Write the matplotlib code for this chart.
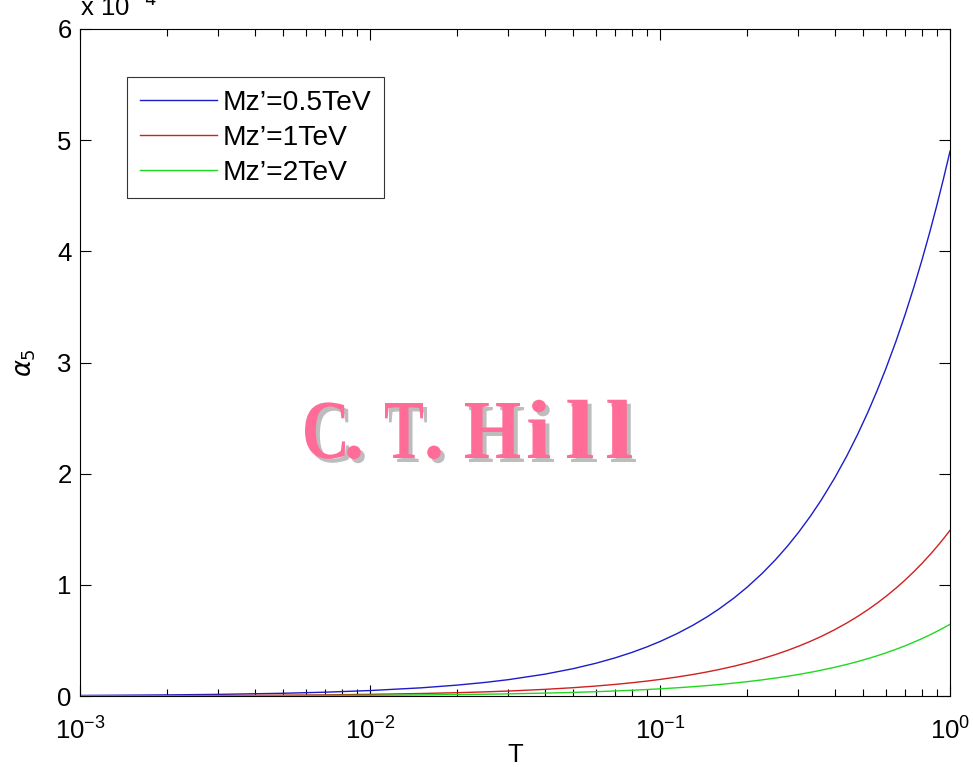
import matplotlib
matplotlib.use("Agg")
import matplotlib.pyplot as plt
from matplotlib.textpath import TextPath
from matplotlib.patches import PathPatch
from matplotlib.font_manager import FontProperties
from matplotlib.transforms import Affine2D
from matplotlib.ticker import LogLocator, NullFormatter

plt.rcParams['font.family'] = ['Liberation Sans', 'DejaVu Sans']

T = [0.001, 0.002, 0.003, 0.005, 0.007, 0.01, 0.015, 0.02, 0.025, 0.03, 0.04, 0.05, 0.06, 0.07,
     0.08, 0.09, 0.1, 0.115, 0.13, 0.145, 0.16, 0.18, 0.2, 0.225, 0.25, 0.275, 0.3, 0.33, 0.36,
     0.4, 0.44, 0.48, 0.52, 0.56, 0.6, 0.65, 0.7, 0.75, 0.8, 0.85, 0.9, 0.95, 1.0]
alpha5_05TeV = [0.0049, 0.0098, 0.0147, 0.0245, 0.0343, 0.049, 0.0735, 0.098, 0.1225, 0.147, 0.196,
                0.245, 0.294, 0.343, 0.392, 0.441, 0.49, 0.5635, 0.637, 0.7105, 0.784, 0.882, 0.98,
                1.1025, 1.225, 1.3475, 1.47, 1.617, 1.764, 1.96, 2.156, 2.352, 2.548, 2.744, 2.94,
                3.185, 3.43, 3.675, 3.92, 4.165, 4.41, 4.655, 4.9]
alpha5_1TeV = [0.0015, 0.003, 0.0045, 0.0075, 0.0104, 0.0149, 0.0224, 0.0298, 0.0373, 0.0447, 0.0596,
               0.0745, 0.0894, 0.1043, 0.1192, 0.1341, 0.149, 0.1714, 0.1937, 0.2161, 0.2384, 0.2682,
               0.298, 0.3353, 0.3725, 0.4098, 0.447, 0.4917, 0.5364, 0.596, 0.6556, 0.7152, 0.7748,
               0.8344, 0.894, 0.9685, 1.043, 1.1175, 1.192, 1.2665, 1.341, 1.4155, 1.49]
alpha5_2TeV = [0.0006, 0.0013, 0.0019, 0.0032, 0.0045, 0.0065, 0.0097, 0.0129, 0.0161, 0.0194, 0.0258,
               0.0323, 0.0387, 0.0452, 0.0516, 0.0581, 0.0645, 0.0742, 0.0839, 0.0935, 0.1032, 0.1161,
               0.129, 0.1451, 0.1613, 0.1774, 0.1935, 0.2129, 0.2322, 0.258, 0.2838, 0.3096, 0.3354,
               0.3612, 0.387, 0.4193, 0.4515, 0.4838, 0.516, 0.5483, 0.5805, 0.6128, 0.645]
labels = ["Mz\u2019=0.5TeV", "Mz\u2019=1TeV", "Mz\u2019=2TeV"]
colors = ["#1c1cc8", "#d02020", "#20d820"]
yticks = [0, 1, 2, 3, 4, 5, 6]

FS = 18.5
W, H = 973, 767
fig = plt.figure(figsize=(W / 100, H / 100), dpi=100)
ax = fig.add_axes([80 / W, (H - 696) / H, 870 / W, 667 / H])

for ys, lab, c in zip([alpha5_05TeV, alpha5_1TeV, alpha5_2TeV], labels, colors):
    ax.plot(T, ys, color=c, lw=1.0, label=lab)

ax.set_xscale('log')
ax.set_xlim(1e-3, 1)
ax.set_ylim(0, 6)
ax.set_yticks(yticks)
ax.xaxis.set_major_locator(LogLocator(base=10, numticks=10))
ax.xaxis.set_minor_locator(LogLocator(base=10, subs=range(2, 10), numticks=20))
ax.xaxis.set_minor_formatter(NullFormatter())
ax.tick_params(which='both', direction='in', top=True, right=True, labelsize=FS, width=0.8)
ax.tick_params(which='major', length=8)
ax.tick_params(which='minor', length=5)
ax.tick_params(axis='x', which='major', pad=15.5)
ax.tick_params(axis='y', which='major', pad=6)
for s in ax.spines.values():
    s.set_linewidth(0.8)

ax.set_xlabel("T", fontsize=FS, labelpad=-1)
ax.set_ylabel(r"$\alpha_5$", fontsize=FS, labelpad=14)

LFS = 20.3
leg = ax.legend(loc='upper left', bbox_to_anchor=(47 / 870, 1 - 48 / 667), fontsize=LFS,
                frameon=True, fancybox=False, edgecolor='black', handlelength=2.75,
                handletextpad=0.2, borderpad=0.45, labelspacing=0.32, borderaxespad=0)
leg.get_frame().set_linewidth(0.8)

fig.text(80 / W, (H - 16) / H, r"x 10$^{-4}$", fontsize=FS, ha='left', va='baseline')

# Watermark "C. T. Hill" (characters placed individually)
fp = FontProperties(family='Liberation Serif', weight='bold')
wm_chars = ["C", ".", "T", ".", "H", "i", "l", "l"]
wm_boxes = [(305, 345), (347, 361), (385, 423), (427, 441), (465, 520), (528, 550), (567, 593), (607, 632)]
base, captop = 458, 403
cap = TextPath((0, 0), "H", size=1, prop=fp).get_extents().ymax
sy = (base - captop) / cap
for dx, dy, col in [(4, -4, "#bdbdbd"), (0, 0, "#ff6c98")]:
    for ch, (xl, xr) in zip(wm_chars, wm_boxes):
        p = TextPath((0, 0), ch, size=1, prop=fp)
        e = p.get_extents()
        sx = (xr - xl) / e.width
        if ch == ".":
            sx = min(sx, sy)
            xl = (xl + xr) / 2 - e.width * sx / 2
        tr = Affine2D().translate(-e.xmin, 0).scale(sx, sy).translate(xl + dx, H - base + dy)
        fig.add_artist(PathPatch(p, transform=tr, facecolor=col, edgecolor='none'))

fig.savefig("out.png", dpi=100)
